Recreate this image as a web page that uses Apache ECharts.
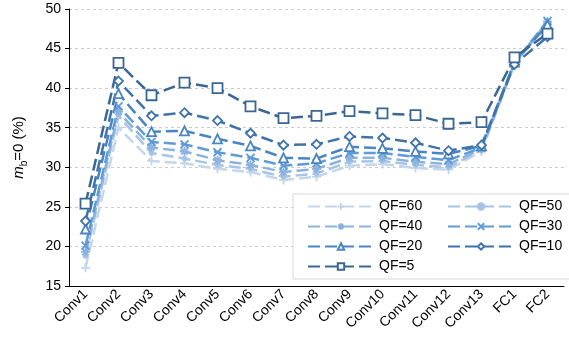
<!DOCTYPE html>
<html>
<head>
<meta charset="utf-8">
<script src="https://cdn.jsdelivr.net/npm/echarts@6/dist/echarts.min.js"></script>
<style>
  html, body { margin: 0; padding: 0; background: #fff; }
  #chart { width: 569px; height: 343px; }
</style>
</head>
<body>
<div id="chart"></div>
<script>
// layers on the x axis
var categories = ['Conv1', 'Conv2', 'Conv3', 'Conv4', 'Conv5', 'Conv6', 'Conv7',
  'Conv8', 'Conv9', 'Conv10', 'Conv11', 'Conv12', 'Conv13', 'FC1', 'FC2']
var yTicks = [15, 20, 25, 30, 35, 40, 45, 50]

// share of m_b = 0 (%) per quality factor
var qf60 = [17.3, 35.0, 30.8, 30.5, 29.8, 29.4, 28.4, 28.8, 30.2, 30.4, 29.9, 29.7, 32.0, 43.0, 48.3]
var qf50 = [18.8, 36.5, 31.8, 31.1, 30.3, 29.8, 28.8, 29.2, 30.7, 30.8, 30.3, 30.0, 32.2, 43.1, 48.4]
var qf40 = [19.3, 37.0, 32.5, 32.0, 30.9, 30.3, 29.4, 29.8, 31.2, 31.2, 30.7, 30.4, 32.3, 43.2, 48.4]
var qf30 = [20.1, 37.7, 33.2, 32.9, 31.9, 31.2, 30.2, 30.5, 31.8, 31.8, 31.3, 30.9, 32.5, 43.2, 48.5]
var qf20 = [22.2, 39.3, 34.5, 34.6, 33.6, 32.7, 31.2, 31.1, 32.6, 32.4, 32.0, 31.7, 32.7, 43.3, 48.0]
var qf10 = [23.2, 40.9, 36.5, 36.9, 35.9, 34.3, 32.8, 32.9, 33.9, 33.7, 33.1, 32.1, 32.8, 43.0, 46.5]
var qf5 = [25.4, 43.2, 39.1, 40.7, 40.0, 37.7, 36.2, 36.5, 37.1, 36.8, 36.6, 35.5, 35.7, 43.9, 46.9]

var chart = echarts.init(document.getElementById('chart'))

function makeSeries(name, data, color, symbol, size, hollow) {
  return {
    name: name,
    type: 'line',
    data: data,
    symbol: symbol,
    symbolSize: size,
    lineStyle: { color: color, width: 2.5, type: [12, 5] },
    itemStyle: { color: hollow ? '#fff' : color, borderColor: color, borderWidth: 1.8 },
    emphasis: { disabled: true }
  }
}

var plus = 'path://M5,0 L5,10 M0,5 L10,5'
var cross = 'path://M0,0 L10,10 M10,0 L0,10'
var star = 'path://M5,0 L5,10 M0,5 L10,5 M1.5,1.5 L8.5,8.5 M8.5,1.5 L1.5,8.5'

chart.setOption({
  animation: false,
  textStyle: { fontFamily: 'Liberation Sans, Arial, sans-serif' },
  grid: { left: 69, right: 5, top: 9, bottom: 57 },
  xAxis: {
    type: 'category',
    data: categories,
    boundaryGap: true,
    axisLine: { lineStyle: { color: '#000', width: 1 } },
    axisTick: { inside: true, length: 4, lineStyle: { color: '#000' } },
    axisLabel: { rotate: 45, fontSize: 14, color: '#000', margin: 6, interval: 0 }
  },
  yAxis: {
    type: 'value',
    min: yTicks[0],
    max: yTicks[yTicks.length - 1],
    interval: 5,
    name: '{m|m}{b|b}{t|=0 (%)}',
    nameLocation: 'middle',
    nameGap: 40,
    nameTextStyle: {
      rich: {
        m: { fontSize: 15, fontStyle: 'italic', color: '#000' },
        b: { fontSize: 10, color: '#000', padding: [10, 0, 0, 0] },
        t: { fontSize: 15, color: '#000' }
      }
    },
    axisLine: { show: true, lineStyle: { color: '#000', width: 1 } },
    axisTick: { show: true, length: 4, lineStyle: { color: '#000' } },
    axisLabel: { fontSize: 14, color: '#000', margin: 8 },
    splitLine: { lineStyle: { color: '#cccccc', type: [3, 3] } }
  },
  legend: {
    left: 293,
    top: 194,
    width: 285,
    orient: 'horizontal',
    itemWidth: 66,
    itemHeight: 8,
    itemGap: 5,
    padding: [5, 2, 5, 14],
    backgroundColor: '#fff',
    borderColor: '#d9d9d9',
    borderWidth: 1,
    borderRadius: 0,
    textStyle: { fontSize: 14, color: '#000', width: 63, lineHeight: 15 },
    data: ['QF=60', 'QF=50', 'QF=40', 'QF=30', 'QF=20', 'QF=10', 'QF=5']
  },
  series: [
    makeSeries('QF=60', qf60, '#c3d6ec', plus, 9, false),
    makeSeries('QF=50', qf50, '#a8c4e4', 'circle', 4, false),
    makeSeries('QF=40', qf40, '#8cb3df', star, 9, false),
    makeSeries('QF=30', qf30, '#5f9bd6', cross, 8, false),
    makeSeries('QF=20', qf20, '#4a85c3', 'triangle', 9, true),
    makeSeries('QF=10', qf10, '#3f73aa', 'diamond', 9, true),
    makeSeries('QF=5', qf5, '#3a6694', 'rect', 10, true)
  ]
})
</script>
</body>
</html>
